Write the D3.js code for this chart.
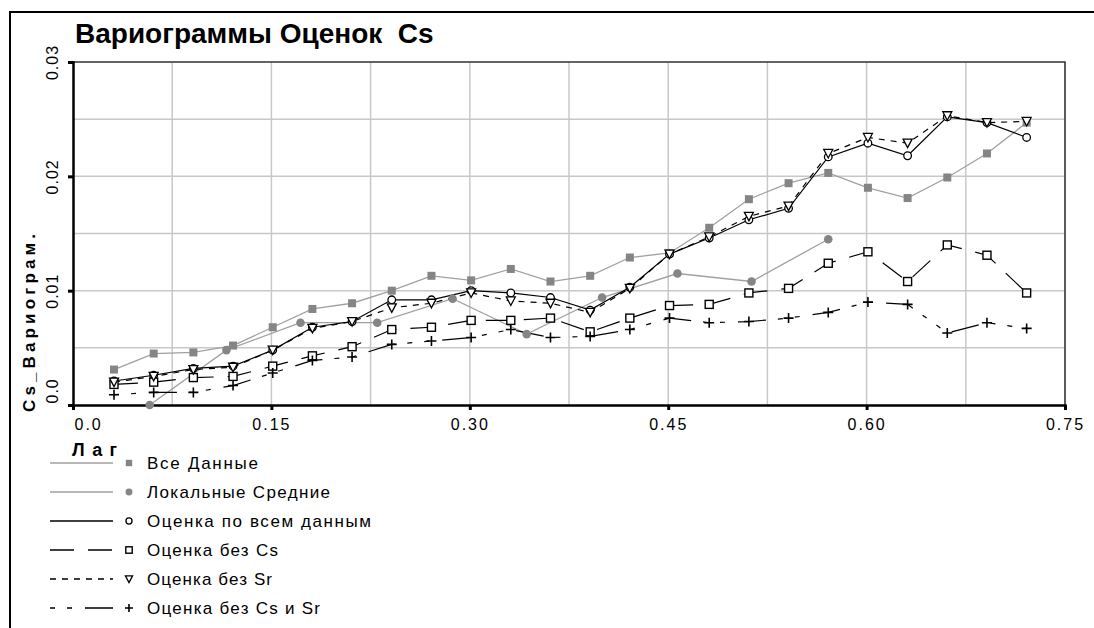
<!DOCTYPE html>
<html><head><meta charset="utf-8">
<script src="https://cdn.jsdelivr.net/npm/d3@7"></script>
<style>
html,body{margin:0;padding:0;background:#fff;}
svg{display:block;font-family:"Liberation Sans",Arial,sans-serif;}
</style></head>
<body>
<svg id="chart" width="1094" height="628"></svg>
<script>
// ---- data ----
const lags = [0.031,0.061,0.091,0.121,0.151,0.181,0.211,0.241,0.271,0.301,0.331,0.361,
              0.391,0.421,0.451,0.481,0.511,0.541,0.571,0.601,0.631,0.661,0.691,0.721];
const allData   = [0.0031,0.0045,0.0046,0.0052,0.0068,0.0084,0.0089,0.0100,0.0113,0.0109,0.0119,0.0108,
                   0.0113,0.0129,0.0133,0.0155,0.0180,0.0194,0.0203,0.0190,0.0181,0.0199,0.0220,0.0247];
const localLags  = [0.058,0.116,0.172,0.230,0.287,0.343,0.400,0.457,0.513,0.571];
const localMeans = [0.0000,0.0048,0.0072,0.0072,0.0093,0.0062,0.0094,0.0115,0.0108,0.0145];
const estAll    = [0.0021,0.0026,0.0032,0.0034,0.0048,0.0068,0.0073,0.0092,0.0092,0.0100,0.0098,0.0094,
                   0.0083,0.0103,0.0132,0.0146,0.0162,0.0172,0.0217,0.0229,0.0218,0.0252,0.0247,0.0234];
const estNoCs   = [0.0018,0.0020,0.0024,0.0025,0.0034,0.0043,0.0051,0.0066,0.0068,0.0074,0.0074,0.0076,
                   0.0064,0.0076,0.0087,0.0088,0.0098,0.0102,0.0124,0.0134,0.0108,0.0140,0.0131,0.0098];
const estNoSr   = [0.0020,0.0025,0.0031,0.0033,0.0048,0.0067,0.0073,0.0085,0.0089,0.0098,0.0091,0.0089,
                   0.0081,0.0102,0.0132,0.0147,0.0165,0.0174,0.0220,0.0234,0.0229,0.0253,0.0247,0.0248];
const estNoCsSr = [0.0009,0.0011,0.0011,0.0017,0.0028,0.0039,0.0042,0.0053,0.0056,0.0059,0.0066,0.0059,
                   0.0060,0.0066,0.0076,0.0072,0.0073,0.0076,0.0081,0.0090,0.0088,0.0063,0.0072,0.0067];
const xTicks = [0, 0.15, 0.30, 0.45, 0.60, 0.75];
const xTickLabels = ["0.0","0.15","0.30","0.45","0.60","0.75"];
const yTicks = [0, 0.01, 0.02, 0.03];
const yTickLabels = ["0.0","0.01","0.02","0.03"];
const seriesNames = ["Все Данные","Локальные Средние","Оценка по всем данным","Оценка без Cs","Оценка без Sr","Оценка без Cs и Sr"];
const titleText = "Вариограммы Оценок  Cs";
const yTitle = "Cs_Вариограм.";
const xTitle = "Лаг";

// ---- setup ----
const svg = d3.select("#chart");
const x = d3.scaleLinear().domain([0, 0.75]).range([73, 1065]);
const y = d3.scaleLinear().domain([0, 0.03]).range([405, 62]);

// outer frame
svg.append("path").attr("d","M10,628 V12 H1094").attr("fill","none").attr("stroke","#000").attr("stroke-width",2);

// title
svg.append("text").attr("x",75).attr("y",43).attr("font-size",28).attr("font-weight","bold")
   .attr("fill","#000").style("white-space","pre").text(titleText);

// grid
const gx = d3.range(0.075, 0.75, 0.075);
const gy = d3.range(0.005, 0.03, 0.005);
svg.append("g").selectAll("line").data(gx).join("line")
  .attr("x1",d=>x(d)).attr("x2",d=>x(d)).attr("y1",y(0)).attr("y2",y(0.03))
  .attr("stroke","#c8c8c8").attr("stroke-width",1.5);
svg.append("g").selectAll("line").data(gy).join("line")
  .attr("x1",x(0)).attr("x2",x(0.75)).attr("y1",d=>y(d)).attr("y2",d=>y(d))
  .attr("stroke","#c8c8c8").attr("stroke-width",1.5);

// plot frame top/right
svg.append("path").attr("d",`M${x(0)},${y(0.03)} H${x(0.75)} V${y(0)}`)
   .attr("fill","none").attr("stroke","#333").attr("stroke-width",1.5);

// axes via d3
const xAxis = svg.append("g").attr("transform",`translate(0,${y(0)})`)
  .call(d3.axisBottom(x).tickValues(xTicks).tickSize(5).tickFormat((d,i)=>xTickLabels[i]));
const yAxis = svg.append("g").attr("transform",`translate(${x(0)},0)`)
  .call(d3.axisLeft(y).tickValues(yTicks).tickSize(5).tickFormat((d,i)=>yTickLabels[i]));
[xAxis,yAxis].forEach(a=>{
  a.select(".domain").attr("stroke","#000").attr("stroke-width",2.5);
  a.selectAll(".tick line").attr("stroke","#000").attr("stroke-width",3);
  a.selectAll("text").attr("font-family","Liberation Sans, Arial, sans-serif").attr("font-size",16).attr("fill","#000");
});
xAxis.selectAll(".tick text").attr("y",13.5).attr("dy","0.71em").attr("letter-spacing","2px")
  .each(function(d,i){ if(i===0) d3.select(this).attr("text-anchor","start").attr("x",1); });
yAxis.selectAll(".tick text").attr("x",0).attr("dy",0)
  .attr("transform","translate(-15,0) rotate(-90)").attr("text-anchor","middle").attr("letter-spacing","1px")
  .each(function(d,i){ if(i===0) d3.select(this).attr("text-anchor","start").attr("x",2); });

// y title
svg.append("text").attr("transform",`translate(35,${(233+413)/2}) rotate(-90)`)
  .attr("text-anchor","middle").attr("font-size",17).attr("font-weight","bold")
  .attr("textLength",178).attr("lengthAdjust","spacing").text(yTitle);

// series definitions
const grey = "#a0a0a0", greyM = "#858585";
const series = [
  {name:seriesNames[0], xs:lags, ys:allData, color:grey, dash:null, marker:"fsquare"},
  {name:seriesNames[1], xs:localLags, ys:localMeans, color:grey, dash:null, marker:"fcircle"},
  {name:seriesNames[2], xs:lags, ys:estAll, color:"#000", dash:null, marker:"ocircle"},
  {name:seriesNames[3], xs:lags, ys:estNoCs, color:"#000", dash:"24,14", marker:"osquare"},
  {name:seriesNames[4], xs:lags, ys:estNoSr, color:"#000", dash:"6,6", marker:"otri"},
  {name:seriesNames[5], xs:lags, ys:estNoCsSr, color:"#000", dash:"5,12,5,13,28,12", marker:"plus"}
];

function drawMarker(g, type, cx, cy, big){
  const s = big ? 1 : 0.8;
  switch(type){
    case "fsquare": g.append("rect").attr("x",cx-4*s).attr("y",cy-4*s).attr("width",8*s).attr("height",8*s).attr("fill",greyM); break;
    case "fcircle": g.append("circle").attr("cx",cx).attr("cy",cy).attr("r",4.3*s).attr("fill",greyM); break;
    case "ocircle": g.append("circle").attr("cx",cx).attr("cy",cy).attr("r",3.8*s).attr("fill","#fff").attr("stroke","#000").attr("stroke-width",1.3); break;
    case "osquare": g.append("rect").attr("x",cx-4*s).attr("y",cy-4*s).attr("width",8*s).attr("height",8*s).attr("fill","#fff").attr("stroke","#000").attr("stroke-width",1.4); break;
    case "otri": g.append("path").attr("d",`M${cx-4.5*s},${cy-4*s} H${cx+4.5*s} L${cx},${cy+4.5*s} Z`).attr("fill","#fff").attr("stroke","#000").attr("stroke-width",1.3); break;
    case "plus": g.append("path").attr("d",`M${cx-5*s},${cy} H${cx+5*s} M${cx},${cy-5*s} V${cy+5*s}`).attr("stroke","#000").attr("stroke-width",1.6); break;
  }
}

const line = d3.line().x(d=>x(d[0])).y(d=>y(d[1]));
const plot = svg.append("g");
series.forEach(s=>{
  const pts = s.xs.map((v,i)=>[v, s.ys[i]]);
  plot.append("path").datum(pts).attr("d",line).attr("fill","none")
    .attr("stroke",s.color).attr("stroke-width",s.color==="#000"?1.2:1.3)
    .attr("stroke-dasharray",s.dash);
});
series.forEach(s=>{
  const g = plot.append("g");
  s.xs.forEach((v,i)=>drawMarker(g, s.marker, x(v), y(s.ys[i]), true));
});

// x title
svg.append("text").attr("x",72).attr("y",456).attr("font-size",18).attr("font-weight","bold")
  .attr("textLength",45).attr("lengthAdjust","spacing").text(xTitle);

// legend
const legW = [111,183,224,131,125,173];
const leg = svg.append("g");
series.forEach((s,i)=>{
  const ry = 463 + 29*i;
  leg.append("line").attr("x1",50).attr("x2",113).attr("y1",ry).attr("y2",ry)
    .attr("stroke",s.color).attr("stroke-width",1.6).attr("stroke-dasharray",s.dash);
  drawMarker(leg, s.marker, 129, ry, false);
  leg.append("text").attr("x",147).attr("y",ry+6).attr("font-size",17)
    .attr("textLength",legW[i]).attr("lengthAdjust","spacing").text(s.name);
});
</script>
</body></html>
